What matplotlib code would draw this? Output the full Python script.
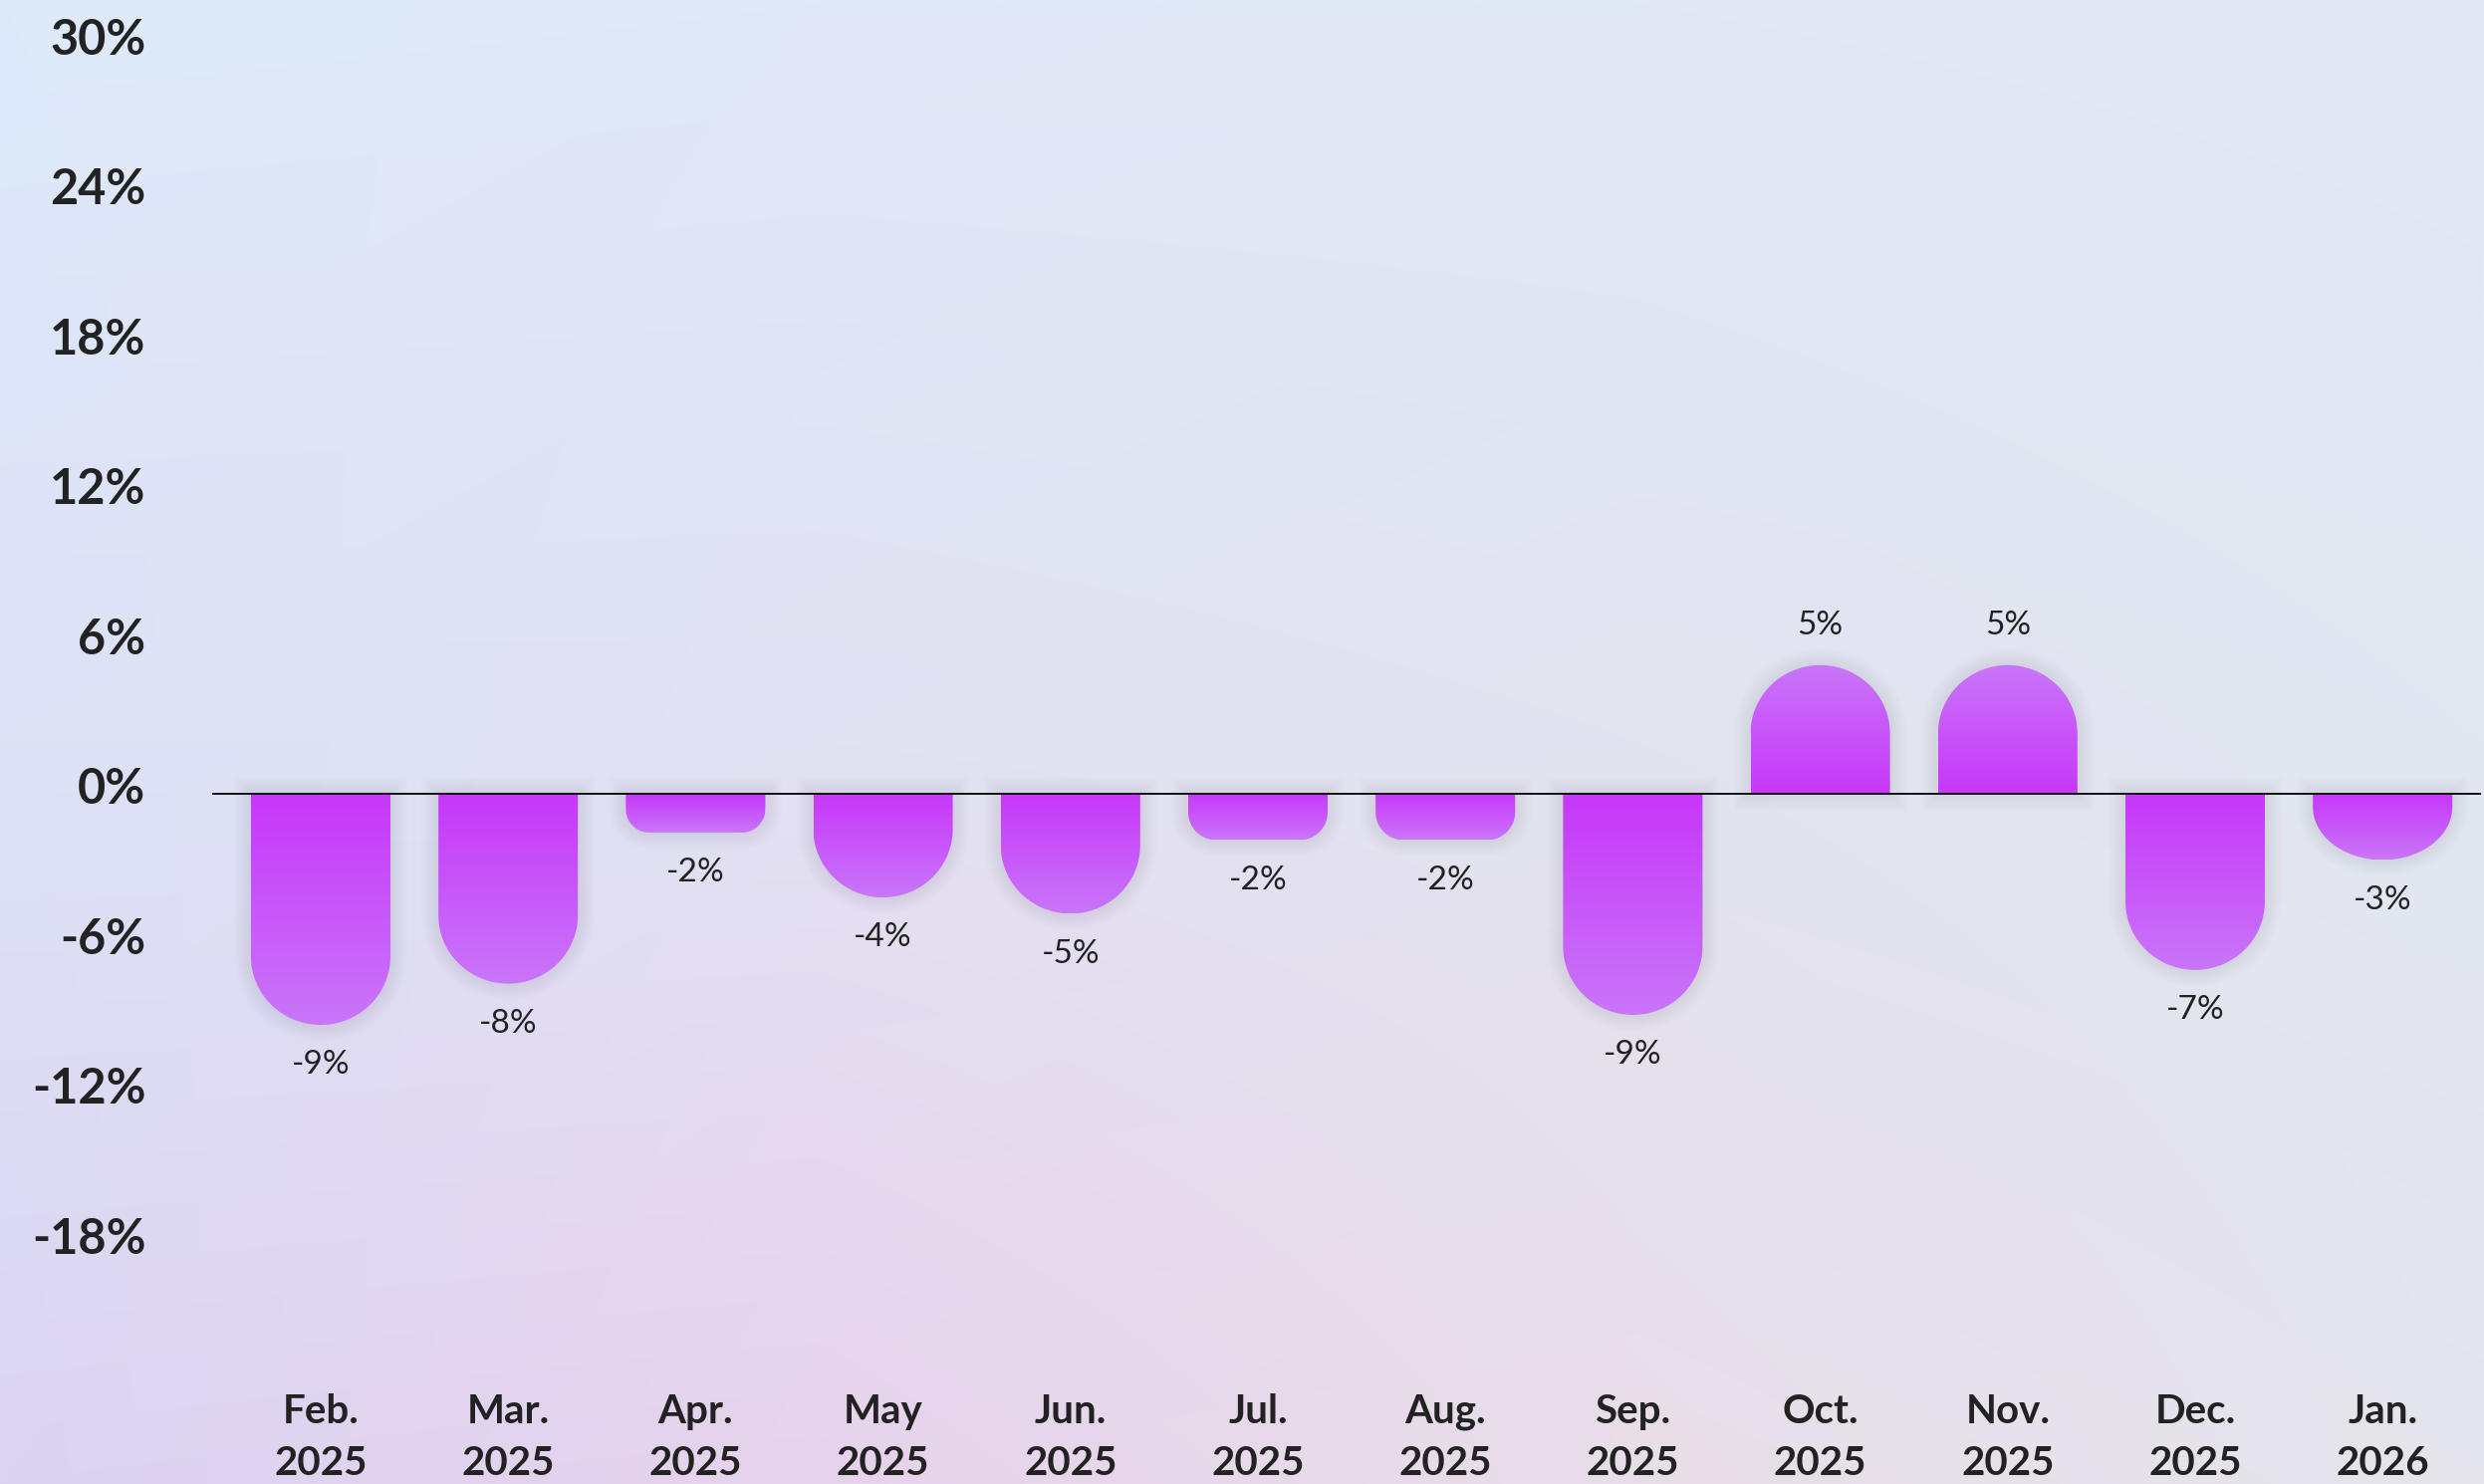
import numpy as np
import matplotlib.pyplot as plt
from matplotlib.path import Path
from matplotlib.patches import PathPatch
from matplotlib.colors import LinearSegmentedColormap, to_rgb

plt.rcParams['font.family'] = ['Lato', 'DejaVu Sans']

# data
months = ["Feb.\n2025", "Mar.\n2025", "Apr.\n2025", "May\n2025", "Jun.\n2025", "Jul.\n2025",
          "Aug.\n2025", "Sep.\n2025", "Oct.\n2025", "Nov.\n2025", "Dec.\n2025", "Jan.\n2026"]
changes = [-9.25, -7.6, -1.55, -4.15, -4.8, -1.85, -1.85, -8.85, 5.15, 5.15, -7.05, -2.65]
yticks = [-18, -12, -6, 0, 6, 12, 18, 24, 30]

W, H = 2494, 1490
bar_width = 0.744
text_color = '#222222'
bar_cmap = LinearSegmentedColormap.from_list('bar', ['#c737fa', '#c976f9'])

# background: soft blue -> lavender/pink gradient
bg_cols = [0.0, 0.33, 0.66, 1.0]
bg_rows = [0.0, 0.5, 1.0]
bg_colors = [["#deeafb", "#e0e9f8", "#e1e9f6", "#e2eaf6"],
             ["#dde2f6", "#e2e2f3", "#e3e4f0", "#e2e7f2"],
             ["#dbd4f2", "#e7d2ec", "#e8dee8", "#e5e5ec"]]


def make_background(nx=400, ny=240):
    ctrl = np.array([[to_rgb(c) for c in row] for row in bg_colors])
    xs = np.linspace(0, 1, nx)
    ys = np.linspace(0, 1, ny)
    rows = np.zeros((len(bg_rows), nx, 3))
    for r in range(len(bg_rows)):
        for ch in range(3):
            rows[r, :, ch] = np.interp(xs, bg_cols, ctrl[r, :, ch])
    img = np.zeros((ny, nx, 3))
    for i in range(nx):
        for ch in range(3):
            img[:, i, ch] = np.interp(ys, bg_rows, rows[:, i, ch])
    return img


def bar_path(x, v, w, px_x, px_y):
    # rounded only at the far end of the bar
    s = 1 if v >= 0 else -1
    h_px = abs(v) * px_y
    w_px = w * px_x
    if h_px >= 0.45 * w_px:
        rx_px = w_px / 2
        ry_px = min(0.49 * w_px, 0.8 * h_px)
    else:
        rx_px = ry_px = 0.6 * h_px
    rx = rx_px / px_x
    ry = ry_px / px_y
    x0, x1 = x - w / 2, x + w / 2
    cy = v - s * ry
    t = np.linspace(0, np.pi / 2, 30)
    left = np.column_stack([x0 + rx - rx * np.cos(t), cy + s * ry * np.sin(t)])
    t2 = np.linspace(np.pi / 2, 0, 30)
    right = np.column_stack([x1 - rx + rx * np.cos(t2), cy + s * ry * np.sin(t2)])
    pts = np.vstack([[x0, 0], left, right, [x1, 0], [x0, 0]])
    codes = [Path.MOVETO] + [Path.LINETO] * (len(pts) - 2) + [Path.CLOSEPOLY]
    return Path(pts, codes)


fig = plt.figure(figsize=(W / 100, H / 100), dpi=100)

bg = fig.add_axes([0, 0, 1, 1])
bg.imshow(make_background(), extent=[0, 1, 0, 1], aspect='auto', interpolation='bilinear')
bg.axis('off')

left, right, top, bottom = 213, 2491, 44.5, 1399
ax = fig.add_axes([left / W, 1 - bottom / H, (right - left) / W, (bottom - top) / H])
ax.patch.set_alpha(0)
xlim = (-0.579, 11.525)
ylim = (-24, 30)

px_x = (right - left) / (xlim[1] - xlim[0])
px_y = (bottom - top) / (ylim[1] - ylim[0])

grad = np.linspace(0, 1, 256).reshape(-1, 1)
for i, v in enumerate(changes):
    path = bar_path(i, v, bar_width, px_x, px_y)
    # soft shadow around the bar
    for lw in np.arange(3, 27, 3):
        ax.add_patch(PathPatch(path, facecolor='none', edgecolor='#50506a',
                               lw=lw, alpha=0.011, zorder=1))
    patch = PathPatch(path, facecolor='none', edgecolor='none', zorder=2)
    ax.add_patch(patch)
    im = ax.imshow(grad, cmap=bar_cmap, extent=[i - bar_width / 2, i + bar_width / 2, v, 0],
                   origin='upper', aspect='auto', zorder=2, interpolation='bilinear')
    im.set_clip_path(patch)
    s = 1 if v >= 0 else -1
    ax.annotate(f"{round(v):.0f}%", xy=(i, v), xytext=(0, s * 29), textcoords='offset points',
                ha='center', va='center', fontsize=24, color=text_color)

ax.axhline(0, color='#111111', lw=1.4, zorder=3)

ax.set_xlim(xlim)
ax.set_ylim(ylim)

# y labels sit slightly above their gridline value
ax.set_yticks(yticks)
ax.set_yticklabels([])
for t in yticks:
    ax.annotate(f"{t}%", xy=(0, t), xycoords=ax.get_yaxis_transform(), xytext=(-48, 3.2),
                textcoords='offset points', ha='right', va='center',
                fontsize=35, fontweight='bold', color=text_color, annotation_clip=False)

ax.set_xticks(range(len(months)))
ax.set_xticklabels(months, fontsize=29, fontweight='bold', color=text_color)
for lbl in ax.get_xticklabels():
    lbl.set_linespacing(1.5)
ax.tick_params(axis='y', length=0)
ax.tick_params(axis='x', length=0, pad=0)
for sp in ax.spines.values():
    sp.set_visible(False)

fig.savefig('out.png', dpi=100)
